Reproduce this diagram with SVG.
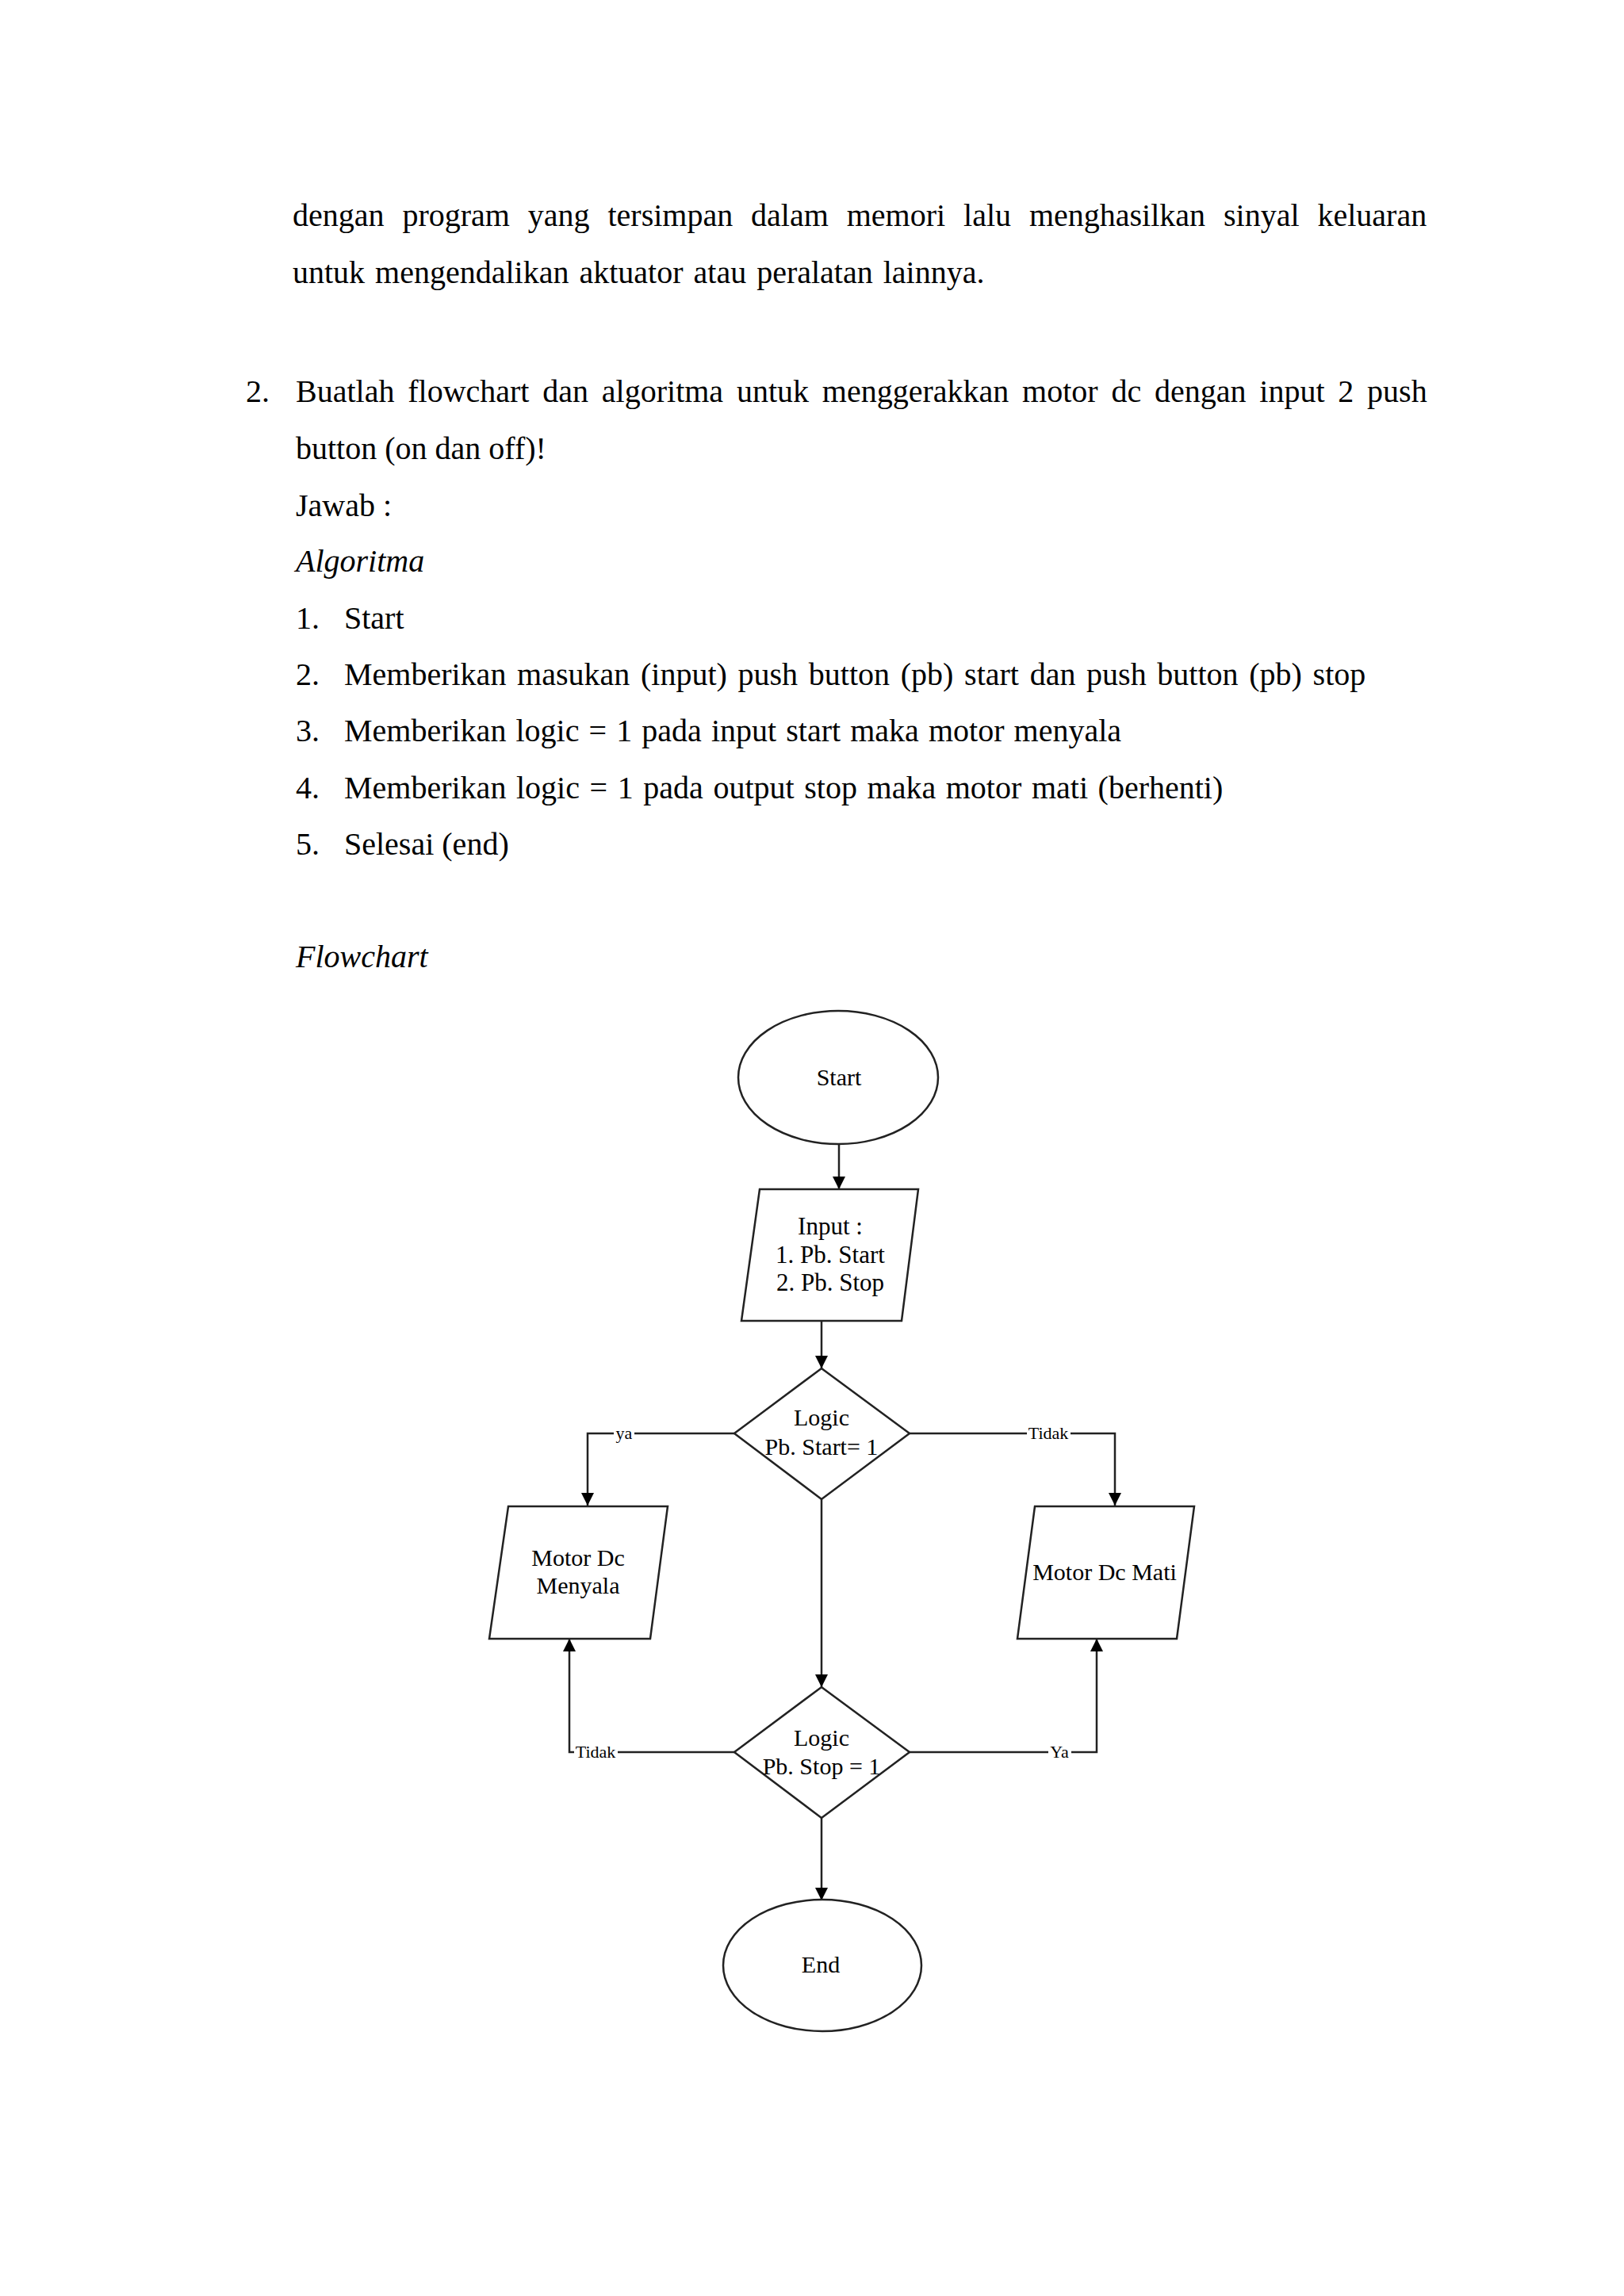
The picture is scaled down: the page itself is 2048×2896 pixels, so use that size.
<svg xmlns="http://www.w3.org/2000/svg" width="2048" height="2896" viewBox="0 0 2048 2896">
<style>
.body{font-family:"Liberation Serif","Times New Roman",serif;font-size:40px;fill:#000}
.it{font-style:italic}
.fc{font-family:"Liberation Serif","Times New Roman",serif;font-size:30px;fill:#000;text-anchor:middle}
.lbl{font-family:"Liberation Serif","Times New Roman",serif;font-size:22px;fill:#000;text-anchor:middle}
.shape{fill:#fff;stroke:#222;stroke-width:2.5}
.conn{fill:none;stroke:#222;stroke-width:2.5}
</style>
<defs>
<marker id="arr" markerUnits="userSpaceOnUse" markerWidth="16" markerHeight="16" viewBox="0 0 10 10" refX="10" refY="5" orient="auto">
<path d="M0,0 L10,5 L0,10 z" fill="#000"/>
</marker>
</defs>
<rect width="2048" height="2896" fill="#fff"/>
<g id="text-body">
<text class="body" x="369" y="285" word-spacing="12.9">dengan program yang tersimpan dalam memori lalu menghasilkan sinyal keluaran</text>
<text class="body" x="369" y="357" word-spacing="3">untuk mengendalikan aktuator atau peralatan lainnya.</text>
<text class="body" x="310" y="507">2.</text>
<text class="body" x="373" y="507" word-spacing="6.8">Buatlah flowchart dan algoritma untuk menggerakkan motor dc dengan input 2 push</text>
<text class="body" x="373" y="579">button (on dan off)!</text>
<text class="body" x="373" y="651">Jawab :</text>
<text class="body it" x="373" y="721">Algoritma</text>
<text class="body" x="373" y="793">1.</text>
<text class="body" x="434" y="793">Start</text>
<text class="body" x="373" y="864">2.</text>
<text class="body" x="434" y="864" word-spacing="3.7">Memberikan masukan (input) push button (pb) start dan push button (pb) stop</text>
<text class="body" x="373" y="935">3.</text>
<text class="body" x="434" y="935" word-spacing="2.1">Memberikan logic = 1 pada input start maka motor menyala</text>
<text class="body" x="373" y="1007">4.</text>
<text class="body" x="434" y="1007" word-spacing="2.6">Memberikan logic = 1 pada output stop maka motor mati (berhenti)</text>
<text class="body" x="373" y="1078">5.</text>
<text class="body" x="434" y="1078">Selesai (end)</text>
<text class="body it" x="373" y="1220">Flowchart</text>
</g>
<g id="connectors">
<line class="conn" x1="1058" y1="1443" x2="1058" y2="1500" marker-end="url(#arr)"/>
<line class="conn" x1="1036" y1="1666" x2="1036" y2="1726" marker-end="url(#arr)"/>
<polyline class="conn" points="926,1808 741,1808 741,1899" marker-end="url(#arr)"/>
<polyline class="conn" points="1147,1808 1406,1808 1406,1899" marker-end="url(#arr)"/>
<line class="conn" x1="1036" y1="1891" x2="1036" y2="2128" marker-end="url(#arr)"/>
<polyline class="conn" points="927,2210 718,2210 718,2067" marker-end="url(#arr)"/>
<polyline class="conn" points="1147,2210 1383,2210 1383,2067" marker-end="url(#arr)"/>
<line class="conn" x1="1036" y1="2293" x2="1036" y2="2397" marker-end="url(#arr)"/>
<rect x="774" y="1796" width="26" height="22" fill="#fff"/>
<text class="lbl" x="787" y="1815">ya</text>
<rect x="1295" y="1796" width="55" height="22" fill="#fff"/>
<text class="lbl" x="1322" y="1815">Tidak</text>
<rect x="724" y="2198" width="55" height="22" fill="#fff"/>
<text class="lbl" x="751" y="2217">Tidak</text>
<rect x="1322" y="2198" width="29" height="22" fill="#fff"/>
<text class="lbl" x="1336" y="2217">Ya</text>
</g>
<g id="node-start">
<ellipse class="shape" cx="1057" cy="1359" rx="126" ry="84"/>
<text class="fc" x="1058" y="1369">Start</text>
</g>
<g id="node-input">
<polygon class="shape" points="958,1500 1158,1500 1137,1666 935,1666"/>
<text class="fc" x="1047" y="1557" style="font-size:31px">Input :</text>
<text class="fc" x="1047" y="1593" style="font-size:31px">1. Pb. Start</text>
<text class="fc" x="1047" y="1628" style="font-size:31px">2. Pb. Stop</text>
</g>
<g id="node-decision-start">
<polygon class="shape" points="1036,1726 1147,1808 1036,1891 926,1808"/>
<text class="fc" x="1036" y="1798">Logic</text>
<text class="fc" x="1036" y="1835">Pb. Start= 1</text>
</g>
<g id="node-motor-on">
<polygon class="shape" points="641,1900 842,1900 820,2067 617,2067"/>
<text class="fc" x="729" y="1975">Motor Dc</text>
<text class="fc" x="729" y="2010">Menyala</text>
</g>
<g id="node-motor-off">
<polygon class="shape" points="1305,1900 1506,1900 1484,2067 1283,2067"/>
<text class="fc" x="1393" y="1993">Motor Dc Mati</text>
</g>
<g id="node-decision-stop">
<polygon class="shape" points="1036,2128 1147,2210 1036,2293 926,2210"/>
<text class="fc" x="1036" y="2202">Logic</text>
<text class="fc" x="1036" y="2238">Pb. Stop = 1</text>
</g>
<g id="node-end">
<ellipse class="shape" cx="1037" cy="2479" rx="125" ry="83"/>
<text class="fc" x="1035" y="2488">End</text>
</g>
</svg>
